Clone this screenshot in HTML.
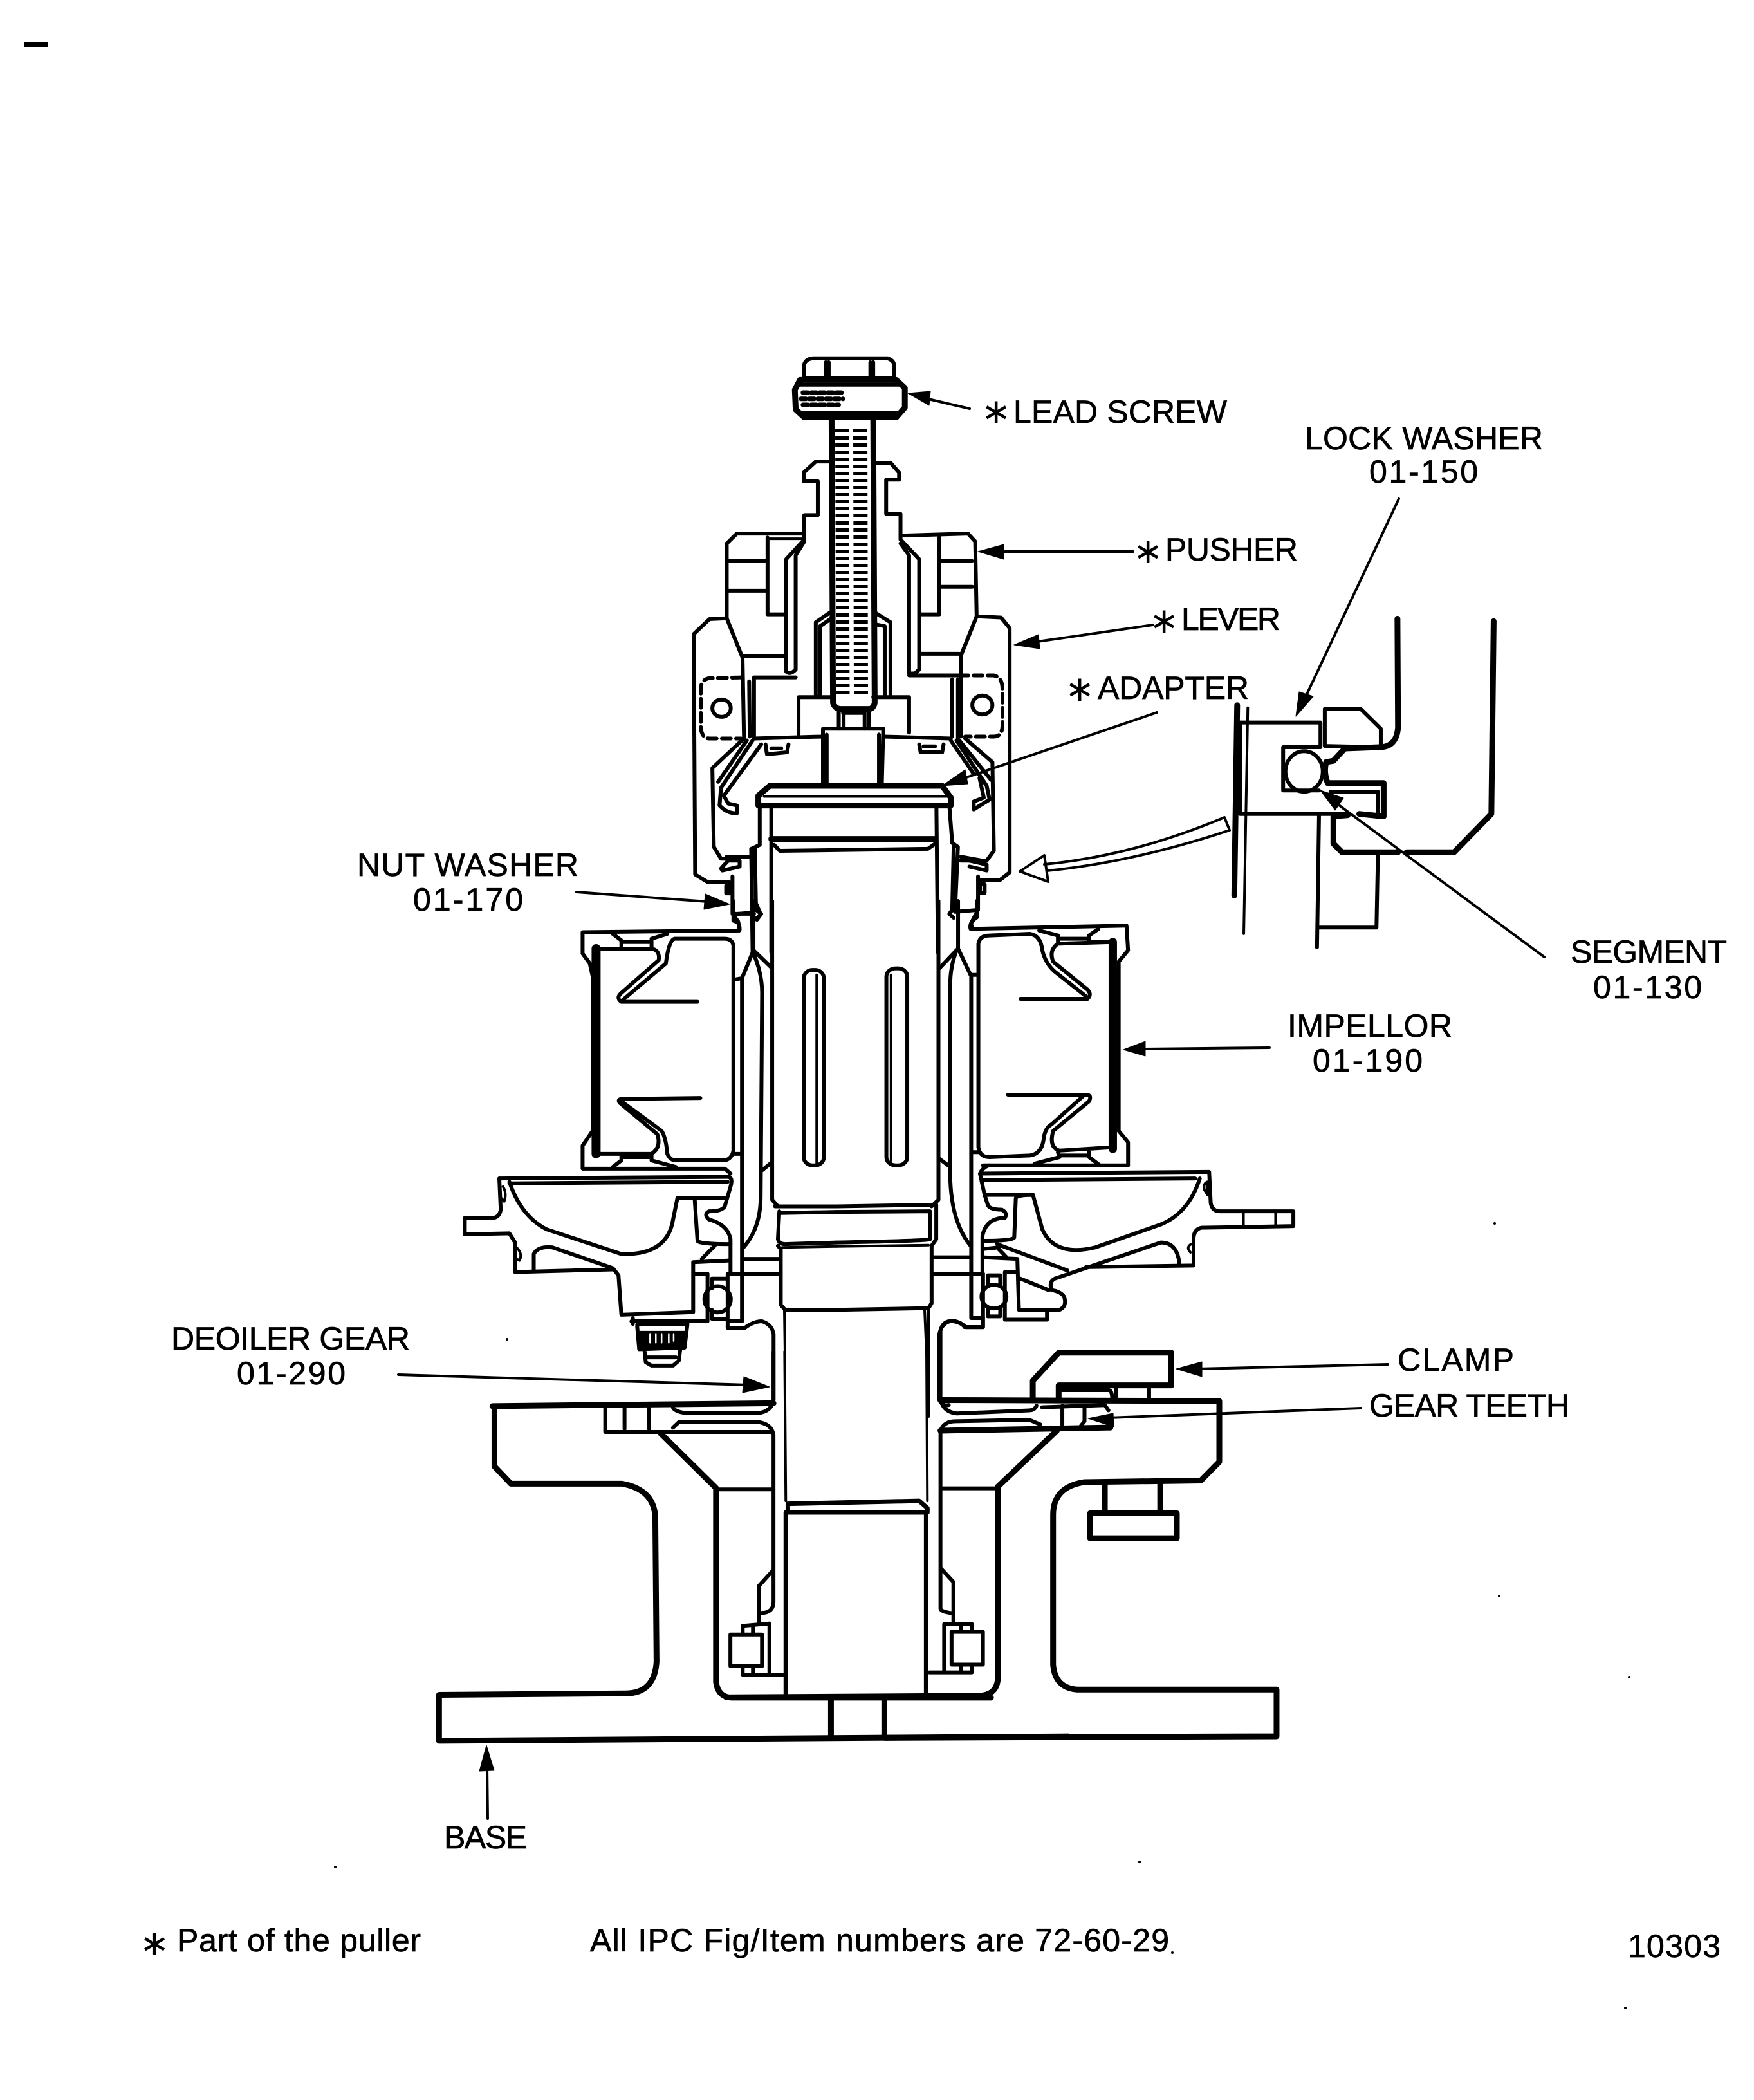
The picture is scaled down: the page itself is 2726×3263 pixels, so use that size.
<!DOCTYPE html>
<html>
<head>
<meta charset="utf-8">
<style>
html,body{margin:0;padding:0;background:#fff}
svg{display:block}
path,line,ellipse,rect,polyline{vector-effect:non-scaling-stroke}
.d{fill:none;stroke:#000;stroke-width:6;stroke-linejoin:round;stroke-linecap:round}
.k{stroke-width:9}
.n{stroke-width:4}
.h{fill:#000;stroke:#000;stroke-width:1}
text{font-family:"Liberation Sans",sans-serif;font-size:50px;fill:#000;stroke:#000;stroke-width:.7}
.star{font-family:"DejaVu Sans",sans-serif;font-size:55px;text-anchor:middle;stroke:none}
</style>
</head>
<body>
<svg xmlns="http://www.w3.org/2000/svg" width="2726" height="3263" viewBox="0 0 2726 3263">
<rect width="2726" height="3263" fill="#fff"/>
<rect x="38" y="66" width="37" height="7" fill="#000"/>
<g fill="#000"><circle cx="2323" cy="1901" r="2"/><circle cx="788" cy="2081" r="2"/><circle cx="2330" cy="2480" r="2"/><circle cx="2532" cy="2606" r="2"/><circle cx="521" cy="2901" r="2"/><circle cx="1771" cy="2893" r="2"/><circle cx="2526" cy="3120" r="2"/><circle cx="1822" cy="3034" r="2"/></g>

<!-- Z1: puller top -->
<g class="d" transform="translate(1000,520) scale(.4464,.6122)">
<path d="M560 110 L560 75 Q565 62 590 60 L850 60 Q870 65 872 75 L872 110 Z M635 70 L635 110 M645 70 L645 110 M790 70 L790 110 M800 70 L800 110"/>
<path class="k" d="M545 115 L880 115 L910 135 L910 185 L880 210 L560 210 L530 190 L527 140 Z"/>
<path d="M535 127 L895 127 M545 198 L895 198"/>
<path class="k" d="M655 215 L660 935 Q668 950 685 950 L785 950 Q800 950 805 935 L800 215"/>
<!-- nut body left -->
<path d="M650 322 L600 322 L558 350 L558 372 L607 372 L607 458 L560 458 L560 520 L497 570 L497 855 Q510 865 530 850 L530 560 L560 525"/>
<path d="M560 505 L325 505 L290 530 L290 720 L345 820 L350 1020"/>
<path d="M432 515 L432 710 L497 710 M295 575 L430 575 M295 650 L430 650 M345 815 L497 815 M530 870 L385 870 L385 1020 M368 880 L370 1020"/>
<path class="n" d="M435 518 L555 518"/>
<path d="M290 720 L230 722 L175 760 L180 1370 L225 1390 L300 1390"/>
<path stroke-dasharray="14 8" d="M340 870 L230 872 Q200 875 200 900 L200 1000 Q205 1025 230 1025 L340 1025"/>
<ellipse cx="272" cy="948" rx="32" ry="22"/>
<!-- nut body right -->
<path d="M805 325 L860 325 L890 350 L890 368 L845 368 L845 455 L895 455 L895 520 L960 570 L960 850 L945 860 L925 860 L925 560 L895 530"/>
<path d="M895 510 L1130 505 L1155 525 L1160 715 L1105 815 L1105 1020"/>
<path d="M1030 515 L1030 710 L965 710 M1030 575 L1145 575 M1030 640 L1145 640 M965 810 L1100 810 M925 865 L1100 865 M1075 875 L1075 1020 M1095 875 L1095 1025"/>
<path d="M1160 715 L1245 718 L1275 745 L1275 1365 L1240 1385 L1165 1385"/>
<path stroke-dasharray="14 8" d="M1100 865 L1220 865 Q1250 870 1250 900 L1250 990 Q1250 1020 1220 1020 L1120 1020"/>
<ellipse cx="1180" cy="940" rx="35" ry="24"/>
<!-- inner nut -->
<path d="M600 915 L600 730 L650 705 M655 720 L615 740 L615 915 M860 915 L860 730 L805 705 M805 735 L840 740 L840 915"/>
<path d="M540 1015 L540 920 L660 920 M800 920 L925 920 L925 1010 M680 955 L680 1000 M695 960 L770 960 M697 960 L697 1000 M770 960 L770 1000 M785 955 L785 1000"/>
<path d="M625 1140 L625 1000 L835 1000 L830 1140 M638 1015 L638 1140 M820 1015 L820 1140"/>
<path d="M385 1025 L625 1020 M835 1020 L1070 1025"/>
<path d="M425 1040 L430 1065 L500 1060 L505 1040 M445 1050 L480 1050 M960 1040 L965 1060 L1040 1060 L1045 1040 M975 1045 L1015 1045"/>
<!-- arms -->
<path d="M350 1025 L240 1100 L245 1300 L270 1330 L290 1330 M380 1030 L270 1150 L265 1195 Q290 1215 325 1215 L325 1195 L295 1190 L280 1170 L410 1040 M360 1030 L260 1135"/>
<path d="M1120 1025 L1215 1085 L1220 1310 L1195 1335 L1105 1335 M1070 1030 L1150 1115 M1090 1030 L1195 1145 L1205 1180 L1150 1205 L1150 1185 L1185 1175 L1170 1125 M1100 1030 L1210 1130"/>
<!-- adapter head -->
<path class="k" d="M400 1170 L440 1145 L1040 1145 L1070 1175 L1070 1195 L400 1195 Z"/>
<path class="n" d="M420 1172 L1055 1172"/>
<path d="M405 1195 L405 1295 L375 1305 L380 1568 M1065 1195 L1075 1290 L1095 1300 L1085 1460"/>
<path d="M445 1195 L445 1568 M1020 1195 L1025 1568 M388 1305 L392 1460 L410 1470 L395 1485 M1080 1300 L1075 1460 L1065 1470 L1080 1480"/>
<path class="k" d="M445 1280 L1015 1280"/>
<path d="M455 1295 L475 1310 L990 1305 L1020 1290"/>
<path d="M290 1325 L375 1325 M275 1360 L335 1350 L335 1335 L295 1335 L270 1355 Z M1105 1325 L1180 1335 M1135 1335 L1195 1345 L1195 1360 L1135 1350"/>
<path d="M310 1375 L310 1470 L330 1490 L335 1510 M310 1470 L385 1470 M1165 1375 L1165 1460 L1085 1465 M1165 1460 L1140 1495 L1145 1505"/>
<rect x="288" y="1398" width="14" height="20"/>
<rect x="1172" y="1395" width="16" height="22"/>
</g>
<!-- threads -->
<line x1="1308.5" y1="667" x2="1310" y2="1085" stroke="#000" stroke-width="21" stroke-dasharray="5 6"/>
<line x1="1337" y1="667" x2="1338" y2="1085" stroke="#000" stroke-width="22" stroke-dasharray="5 6"/>
<g class="d" transform="translate(1000,520) scale(.4464,.6122)">
<path stroke-dasharray="8 5" d="M555 147 L700 147 M548 163 L695 163 M555 178 L680 178" style="stroke-width:7"/>
</g>

<!-- Z3: left impeller -->
<g class="d" transform="translate(680,1400) scale(.4464,.5102)">
<path d="M1050 90 L505 95 L505 160 L530 190 L540 230 L540 700 L505 745 L505 815 L1000 815 L1020 830"/>
<path class="k" d="M552 145 L552 770" style="stroke-width:14"/>
<path d="M905 307 L640 307 Q620 295 640 280 L770 180 Q775 150 745 145 L555 145 L555 770 L745 770 Q780 750 765 710 L635 615 Q625 605 640 603 L915 600"/>
<path d="M1030 240 L1030 135 Q1025 115 1000 115 L825 115 Q805 120 795 190 L640 305 M640 610 L780 700 Q795 720 800 770 Q810 790 830 790 L1000 790 Q1025 785 1030 760 L1030 240"/>
<path d="M610 100 L640 120 L640 140 M745 140 L745 115 L800 100 M640 125 L745 125 M610 810 L640 790 L640 770 M745 770 L745 790 L830 810 M640 780 L745 780"/>
<path d="M1030 240 L1060 235 L1100 150 M1060 235 L1060 1280 M1030 770 L1060 770"/>
<path d="M1100 160 Q1130 220 1130 280 L1125 900 Q1125 1000 1060 1060"/>
<path d="M1100 0 L1100 150 M1165 0 L1165 910 L1185 930 M1100 150 L1165 205 M1130 820 L1165 795"/>
<rect x="1275" y="210" width="70" height="595" rx="30" ry="25"/>
<path class="n" d="M1320 225 L1320 800"/>
<path d="M1175 930 L1389 930 M1195 950 L1389 947 M1190 945 L1185 1030 Q1190 1045 1210 1045 L1389 1040 M1185 1050 L1195 1060 L1195 1230 L1210 1245 L1389 1245 M1060 1090 L1195 1090 M1020 1135 L1195 1135"/>
<path class="n" d="M1200 1055 L1389 1052"/>
<path d="M215 845 L1010 840 Q1030 840 1020 870 L1000 930 Q990 945 945 945 Q925 955 945 970 Q1010 985 1020 1030 L1020 1135"/>
<path d="M250 860 L1010 855"/>
<path d="M250 855 Q290 960 380 1000 L640 1075 Q800 1080 820 970 L835 905 L1005 905 M895 905 L905 1035 Q910 1045 1020 1045"/>
<path d="M215 845 L220 940 Q215 965 190 965 L95 965 L95 1015 L250 1012 L270 1040 L270 1130 L610 1122 M335 1125 L335 1075 Q350 1050 400 1055 L610 1118 L630 1140 L640 1260 L890 1252 L890 1100 L1015 1095 M890 1135 L940 1135 L940 1280 L675 1280 M920 1090 L965 1050"/>
<path class="n" d="M228 870 Q242 890 232 915 L222 905 M275 1055 Q298 1075 285 1095 L275 1090"/>
<ellipse cx="975" cy="1213" rx="46" ry="40"/>
<path d="M955 1180 L955 1150 L1010 1150 M955 1245 L955 1272 L1005 1272 M1010 1135 L1010 1300 L1070 1300 Q1100 1280 1130 1280 Q1165 1290 1170 1320 L1170 1520 Q1165 1530 1130 1530 M1010 1280 L1060 1280"/>
<path d="M680 1270 L680 1288 M695 1290 L870 1288 M695 1295 L702 1365 L860 1360 L870 1290 M720 1365 L725 1405 L745 1415 L820 1415 L840 1400 L845 1365 M730 1390 L830 1390"/>
<rect class="h" x="705" y="1310" width="155" height="55"/>
<path style="stroke:#fff;stroke-width:2.5" d="M740 1320 L740 1345 M760 1320 L760 1345 M780 1320 L780 1345 M805 1320 L805 1345 M822 1320 L822 1340"/>
<path d="M1030 0 L1030 60 L1045 65 Q1055 80 1050 90 M1035 40 L1100 35 M1105 0 L1125 40 L1110 55 L1100 50"/>
</g>

<!-- Z4: right impeller -->
<g class="d" transform="translate(1300,1400) scale(.4847,.5102)">
<path d="M327 0 L327 910 L305 930 M390 0 L390 145 L330 205 M390 145 L430 225 L455 225"/>
<path d="M385 150 Q365 200 365 250 L365 850 Q370 980 430 1050 M330 785 L365 810"/>
<path d="M432 225 L432 1270 L470 1270 L470 1135"/>
<path d="M430 85 L930 75 L935 150 L905 185 L905 700 L935 735 L935 805 L470 805 M430 85 Q425 65 450 50 L450 0"/>
<path style="stroke-width:13" d="M886 125 L886 755"/>
<path d="M815 125 L885 125 L885 750 L715 760 Q680 750 695 700 L810 610 Q820 590 800 590 L550 590 M590 298 L805 298 Q820 285 805 270 L695 185 Q680 150 710 130 L885 125"/>
<path d="M455 225 L455 130 Q460 105 490 105 L620 100 Q655 105 660 150 Q670 190 700 215 L800 290 M455 225 L455 750 Q460 780 490 780 L620 775 Q660 770 665 720 Q670 690 690 680 L790 595"/>
<path d="M650 90 L710 105 L710 125 M810 125 L810 105 L840 85 M710 115 L810 115 M710 765 L715 780 L635 800 M810 765 L810 780 L845 805 M715 775 L810 775 M435 765 L455 765"/>
<rect x="160" y="205" width="67" height="600" rx="30" ry="25"/>
<path class="n" d="M175 225 L175 790"/>
<path d="M0 930 L320 925 M0 947 L300 945 L300 1030 Q295 1035 0 1040 M320 925 L320 1030 L305 1050 L305 1225 L295 1240 L0 1245 M305 1085 L430 1085 M305 1135 L470 1135 M295 1245 L295 1568"/>
<path class="n" d="M0 1052 L295 1048"/>
<path d="M460 830 Q470 810 490 805 M460 830 L1195 825 L1200 920 Q1205 945 1230 945 L1465 945 L1465 990 L1170 995 Q1145 1000 1145 1030 L1145 1110 L800 1115 M470 850 L1150 845 M1165 845 Q1130 950 1040 985 L830 1055 Q700 1085 660 1000 L630 895 L480 895 M460 830 L475 895 L485 925 Q490 940 530 940 Q550 950 540 965 Q480 965 468 1020 L468 1135"/>
<path d="M575 905 L570 1025 Q565 1035 470 1035 M575 905 Q580 895 630 895 M470 1060 L520 1055 M515 1045 L740 1125 M470 1085 L580 1090 L585 1245 L715 1245 Q740 1235 730 1205 Q720 1190 690 1185 Q680 1160 700 1150 L1040 1040 Q1095 1040 1100 1110 M590 1150 L680 1185 M520 1060 L545 1085 M540 1130 L580 1130 M540 1130 L540 1275 L675 1275 L675 1250"/>
<path class="n" d="M1305 945 L1305 990 M1408 945 L1408 990 M1180 880 Q1175 860 1190 855 L1190 895 Z M1135 1070 Q1120 1055 1137 1045"/>
<ellipse cx="505" cy="1205" rx="40" ry="36"/>
<path d="M485 1170 L485 1140 L525 1140 L525 1170 M485 1245 L485 1265 L525 1265 L525 1240"/>
<path d="M470 1270 L470 1298 L415 1298 Q395 1280 370 1278 Q335 1285 330 1320 L330 1520 Q340 1540 360 1535"/>
</g>

<!-- shaft lines joining upper and lower sections -->
<path class="d" d="M1219 2035 L1220 2105 M1437 2035 L1440 2105" style="stroke-width:4"/>

<!-- Z2: detail -->
<g class="d" transform="translate(1800,900) scale(.4464,.3839)">
<path class="k" d="M833 160 L835 600 Q830 680 770 680 L650 685 L610 735 L585 740 Q575 780 590 825 L785 825 L785 960 L700 950"/>
<path class="k" d="M1168 170 L1160 950 L1030 1105 L865 1105 M835 1105 L640 1105 L610 1070 L610 960 L660 955"/>
<path d="M580 525 L705 525 L775 605 L775 680 L580 675 Z M600 860 L765 860 L765 945"/>
<path d="M285 580 L565 580 L565 675 M435 680 L565 680 M435 680 L435 855 L560 855 M285 950 L660 950 M285 580 L285 950"/>
<path class="k" d="M275 510 L265 1280"/>
<path class="n" d="M312 520 L298 1435"/>
<ellipse cx="508" cy="778" rx="65" ry="82"/>
<path d="M560 955 L553 1490 M765 1110 L760 1410 L555 1410"/>
</g>

<!-- Z5: lower left -->
<g class="d" transform="translate(660,2100) scale(.6378,.4464)">
<path class="k" d="M165 190 L850 180 M170 190 L170 400 L210 460 L480 460 Q560 480 562 580 L565 1080 Q560 1190 490 1190 L35 1195 L35 1355 L1568 1340"/>
<path d="M850 0 L850 170 Q845 210 810 215 L640 215 Q610 210 605 195 M440 190 L440 280 L845 280 M487 195 L487 270 M547 195 L547 270 M605 265 L620 245 L810 245 Q845 250 850 290 L850 870 Q850 910 820 910 M850 760 L815 815 L815 945"/>
<path class="n" d="M877 0 L880 520 M1223 0 L1225 520"/>
<path class="k" d="M575 285 L710 475 L710 1150 Q715 1205 750 1205 L1380 1205"/>
<path d="M710 480 L850 480"/>
<rect x="745" y="985" width="77" height="110"/>
<path d="M775 985 L775 955 L840 947 L840 1120 M800 960 L800 985 M775 1095 L775 1125 L880 1125 M800 1100 L800 1125"/>
<path style="stroke-width:7" d="M880 560 L880 1200 M1222 560 L1222 1200 M885 560 L885 530 L1205 520 L1225 545 L1225 560 Z"/>
<path class="k" d="M990 1205 L990 1340 M1120 1205 L1120 1335"/>
</g>

<!-- Z6: lower right -->
<g class="d" transform="translate(1100,2000) scale(.574,.4847)">
<path d="M630 140 Q635 110 660 108 Q690 115 695 128 L745 128 L745 105 M630 140 L630 355 Q635 400 675 405 L870 395 Q885 395 890 380"/>
<path class="k" d="M630 362 L1385 365 L1385 560 L1335 620 L1020 625 Q935 640 935 730 L935 1210 Q940 1285 1000 1290 L1540 1290 L1540 1440 L480 1445"/>
<path class="k" d="M880 360 L880 300 L950 210 L1255 210 L1255 315 L950 315 L950 360"/>
<path d="M960 330 L1085 330 Q1095 330 1095 360 M1105 325 L1105 360 M1195 325 L1195 360"/>
<path class="k" d="M630 460 L1090 450"/>
<path d="M630 460 L630 1030 Q630 1040 660 1045 M630 460 Q640 430 670 430 L870 425 L900 440 M630 645 L785 645 M960 380 L960 445 M1020 380 L1020 430 L1010 445 M905 385 L1075 378 L1085 395 M630 900 L665 945 L665 1075"/>
<path class="k" d="M945 460 L785 640 L785 1260 Q780 1310 730 1310 L50 1315"/>
<rect x="660" y="1105" width="85" height="105"/>
<path d="M640 1080 L715 1080 L715 1105 M640 1080 L640 1235 L600 1235 M640 1235 L715 1235 L715 1210 M685 1085 L685 1105 M685 1212 L685 1235"/>
<path class="k" d="M1075 630 L1075 725 M1225 630 L1225 725"/>
<rect class="k" x="1035" y="725" width="235" height="80"/>
</g>

<!-- arrows -->
<g class="d" style="stroke-width:4">
<path d="M1507 635 L1430 617"/>
<path class="h" d="M1411 611 L1446 608 L1444 630 Z"/>
<path d="M1761 857 L1550 857"/>
<path class="h" d="M1520 857 L1560 846 L1560 869 Z"/>
<path d="M1792 971 L1605 998"/>
<path class="h" d="M1576 1002 L1614 986 L1616 1008 Z"/>
<path d="M1798 1107 L1490 1212"/>
<path class="h" d="M1464 1221 L1500 1196 L1504 1218 Z"/>
<path d="M1585 1354 L1623 1329 L1629 1370 Z"/>
<path d="M1623 1343 Q1760 1330 1903 1270 L1911 1290 Q1760 1340 1627 1353"/>
<path d="M2174 775 L2028 1085"/>
<path class="h" d="M2014 1113 L2019 1075 L2041 1082 Z"/>
<path d="M2400 1487 L2070 1243"/>
<path class="h" d="M2052 1228 L2088 1240 L2075 1259 Z"/>
<path d="M896 1386 L1100 1401"/>
<path class="h" d="M1134 1405 L1096 1389 L1094 1413 Z"/>
<path d="M1973 1628 L1775 1630"/>
<path class="h" d="M1746 1631 L1780 1618 L1780 1641 Z"/>
<path d="M619 2136 L1165 2152"/>
<path class="h" d="M1196 2155 L1156 2139 L1154 2164 Z"/>
<path d="M2157 2120 L1860 2127"/>
<path class="h" d="M1828 2127 L1868 2116 L1868 2139 Z"/>
<path d="M2115 2188 L1722 2203"/>
<path class="h" d="M1691 2204 L1730 2196 L1731 2217 Z"/>
<path d="M758 2826 L757 2745"/>
<path class="h" d="M756 2712 L745 2752 L768 2751 Z"/>
</g>

<!-- labels -->
<text class="star" x="1548" y="658">∗</text>
<text class="star" x="1784" y="875">∗</text>
<text class="star" x="1809" y="983">∗</text>
<text class="star" x="1678" y="1089">∗</text>
<text class="star" x="240" y="3038">∗</text>
<text x="1575" y="657" textLength="332" lengthAdjust="spacing">LEAD SCREW</text>
<text x="2028" y="698" textLength="370" lengthAdjust="spacing">LOCK WASHER</text>
<text x="2128" y="750" textLength="169" lengthAdjust="spacing">01-150</text>
<text x="1811" y="871" textLength="206" lengthAdjust="spacing">PUSHER</text>
<text x="1836" y="979" textLength="154" lengthAdjust="spacing">LEVER</text>
<text x="1706" y="1086" textLength="235" lengthAdjust="spacing">ADAPTER</text>
<text x="555" y="1361" textLength="344" lengthAdjust="spacing">NUT WASHER</text>
<text x="642" y="1415" textLength="171" lengthAdjust="spacing">01-170</text>
<text x="2441" y="1496" textLength="243" lengthAdjust="spacing">SEGMENT</text>
<text x="2476" y="1551" textLength="169" lengthAdjust="spacing">01-130</text>
<text x="2001" y="1611" textLength="256" lengthAdjust="spacing">IMPELLOR</text>
<text x="2040" y="1665" textLength="171" lengthAdjust="spacing">01-190</text>
<text x="266" y="2097" textLength="371" lengthAdjust="spacing">DEOILER GEAR</text>
<text x="368" y="2151" textLength="169" lengthAdjust="spacing">01-290</text>
<text x="2172" y="2130" textLength="181" lengthAdjust="spacing">CLAMP</text>
<text x="2128" y="2201" textLength="311" lengthAdjust="spacing">GEAR TEETH</text>
<text x="690" y="2872" textLength="129" lengthAdjust="spacing">BASE</text>
<text x="275" y="3032" textLength="379" lengthAdjust="spacing">Part of the puller</text>
<text x="917" y="3032" textLength="900" lengthAdjust="spacing">All IPC Fig/Item numbers are 72-60-29</text>
<text x="2530" y="3041" textLength="144" lengthAdjust="spacing">10303</text>
</svg>
</body>
</html>
